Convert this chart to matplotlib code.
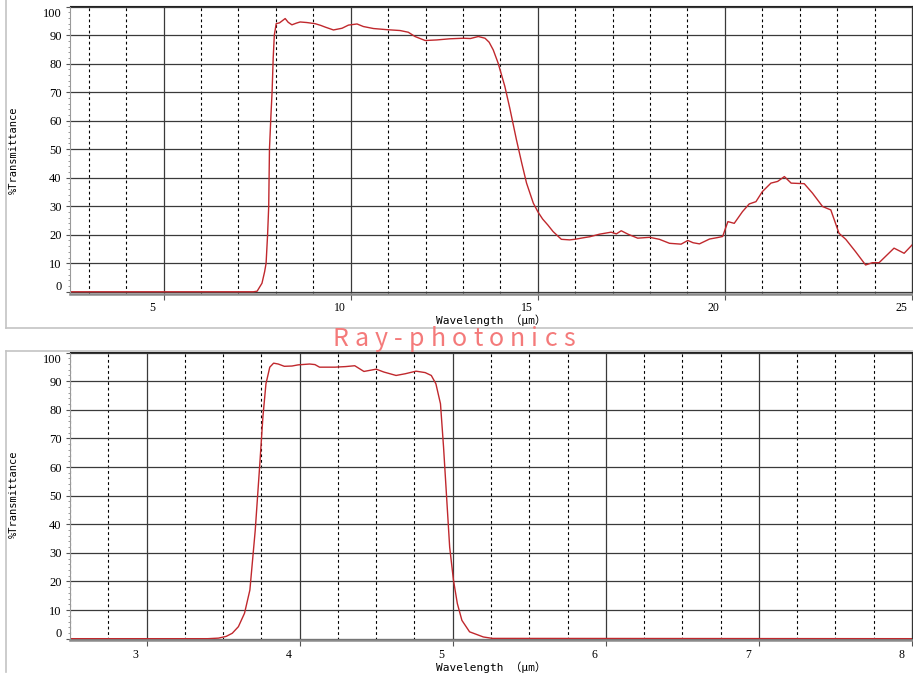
import matplotlib
matplotlib.use("Agg")
import matplotlib.pyplot as plt
import matplotlib.transforms as mtransforms
from matplotlib.lines import Line2D
from matplotlib.ticker import MultipleLocator

# LWIR filter (top panel)
wl_top = [2.5, 7.4, 7.5, 7.63, 7.7, 7.74, 7.78, 7.81, 7.83, 7.87, 7.9, 7.93, 7.96, 8.01,
          8.1, 8.25, 8.33, 8.43, 8.55, 8.65, 8.83, 9.05, 9.2, 9.32, 9.54, 9.77, 9.94,
          10.17, 10.34, 10.61, 10.97, 11.32, 11.54, 11.72, 11.99, 12.3, 12.65, 13.01,
          13.2, 13.41, 13.59, 13.7, 13.81, 13.94, 14.12, 14.25, 14.43, 14.57, 14.7,
          14.88, 15.0, 15.13, 15.27, 15.41, 15.63, 15.85, 15.99, 16.2, 16.39, 16.65,
          16.96, 17.1, 17.23, 17.41, 17.67, 17.99, 18.25, 18.52, 18.83, 19.01, 19.15,
          19.32, 19.59, 19.8, 19.94, 20.08, 20.25, 20.47, 20.65, 20.83, 21.0, 21.23,
          21.41, 21.59, 21.77, 22.12, 22.34, 22.61, 22.83, 23.05, 23.23, 23.49, 23.76,
          23.94, 24.12, 24.52, 24.79, 25.0]
t_top = [0, 0, 0.2, 3, 7, 10, 20, 30, 50, 62, 70, 82, 90, 94,
         94.3, 95.8, 94.5, 93.6, 94.2, 94.6, 94.4, 94.0, 93.4, 92.8, 91.8, 92.4, 93.5,
         93.9, 93.0, 92.3, 91.9, 91.6, 91.0, 89.5, 88.1, 88.3, 88.7, 88.9,
         88.8, 89.5, 88.9, 87.5, 84.8, 80.2, 72, 64.5, 53.3, 45.2, 38.1,
         31.1, 28.1, 25.5, 23.4, 21.1, 18.4, 18.2, 18.4, 18.9, 19.3, 20.2,
         20.9, 20.3, 21.4, 20.2, 18.8, 19.1, 18.4, 17.0, 16.7, 18.0, 17.2,
         16.8, 18.5, 19.0, 19.4, 24.6, 24.0, 28.1, 30.8, 31.6, 35.1, 38.1,
         38.7, 40.4, 38.1, 37.9, 34.6, 29.9, 28.7, 20.5, 18.4, 14.1, 9.4,
         10.2, 10.2, 15.3, 13.5, 16.4]

# MWIR filter (bottom panel)
wl_bot = [2.5, 3.4, 3.47, 3.52, 3.56, 3.6, 3.64, 3.675, 3.71, 3.74, 3.76, 3.78, 3.805,
          3.83, 3.86, 3.9, 3.95, 3.99, 4.065, 4.1, 4.13, 4.23, 4.3, 4.36, 4.42, 4.5,
          4.55, 4.63, 4.69, 4.76, 4.82, 4.86, 4.89, 4.92, 4.94, 4.96, 4.98, 5.005,
          5.03, 5.06, 5.11, 5.2, 5.26, 8.0]
t_bot = [0, 0, 0.2, 0.8, 1.9, 4.2, 8.9, 17, 37.9, 61.2, 77.5, 89.1, 94.9,
         96.3, 96.0, 95.2, 95.3, 95.7, 96.0, 95.8, 94.9, 94.9, 95.1, 95.4, 93.4, 94.2,
         93.2, 92.0, 92.6, 93.5, 93.0, 92.0, 89.1, 82.1, 67, 49.5, 32, 20.4,
         12.3, 6.4, 2.4, 0.6, 0.1, 0]

W, H = 913, 682
fig = plt.figure(figsize=(W / 100, H / 100), dpi=100)
fig.patch.set_facecolor("white")

LINE_RED = "#c0282d"
GRID_DARK = "#3a3a3a"
FRAME = "#c4c4c4"


def px_rect(left, top, right, bottom):
    return [left / W, 1 - bottom / H, (right - left) / W, (bottom - top) / H]


def style_axes(ax, xlim, major, minor):
    ax.set_xlim(*xlim)
    ax.set_ylim(-0.6, 100.2)
    ax.xaxis.set_major_locator(MultipleLocator(major))
    ax.xaxis.set_minor_locator(MultipleLocator(minor))
    ax.yaxis.set_major_locator(MultipleLocator(10))
    ax.yaxis.set_minor_locator(MultipleLocator(2))
    ax.grid(True, which="major", axis="both", color=GRID_DARK, lw=0.9)
    ax.grid(True, which="minor", axis="x", color="black", lw=0.8, linestyle=(0, (2.5, 2.5)))
    ax.tick_params(axis="x", which="major", length=4, direction="out", color="#555555",
                   labelsize=8.5, pad=2)
    ax.tick_params(axis="x", which="minor", length=0)
    ax.tick_params(axis="y", which="major", length=3, direction="out", color="#555555",
                   labelsize=9, pad=3)
    ax.tick_params(axis="y", which="minor", length=1.5, direction="out", color="#888888")
    for lab in ax.get_xticklabels() + ax.get_yticklabels():
        lab.set_family("Liberation Serif")
    ax.spines["bottom"].set_color("#8a8a8a")
    ax.spines["bottom"].set_linewidth(1.8)
    ax.spines["left"].set_color("#9a9a9a")
    ax.spines["left"].set_linestyle((0, (1, 1)))
    ax.spines["top"].set_color("#222222")
    ax.spines["right"].set_color("#333333")
    ax.set_axisbelow(True)

    # the instrument software draws the x numbers left of their grid lines
    shift = mtransforms.ScaledTranslation(-11 / 100, 0, fig.dpi_scale_trans)
    for lab in ax.get_xticklabels():
        lab.set_transform(lab.get_transform() + shift)
    up = mtransforms.ScaledTranslation(0, 6 / 100, fig.dpi_scale_trans)
    down = mtransforms.ScaledTranslation(0, -6 / 100, fig.dpi_scale_trans)
    for lab, val in zip(ax.get_yticklabels(), ax.get_yticks()):
        if abs(val) < 1e-6:
            lab.set_transform(lab.get_transform() + up)
        elif abs(val - 100) < 1e-6:
            lab.set_transform(lab.get_transform() + down)


# top panel
ax1 = fig.add_axes(px_rect(70, 6, 912, 293.5))
ax1.plot(wl_top, t_top, color=LINE_RED, lw=1.0)
style_axes(ax1, (2.5, 25), 5, 1)

# bottom panel
ax2 = fig.add_axes(px_rect(70, 352, 912, 640.4))
ax2.plot(wl_bot, t_bot, color=LINE_RED, lw=1.0)
style_axes(ax2, (2.5, 8.0), 1, 0.25)

# axis titles
for yc in (150, 494):
    fig.text(14 / W, 1 - yc / H, "%Transmittance", rotation=90, ha="center", va="center",
             family="DejaVu Sans Mono", fontsize=7.5)
xlab_family = ["DejaVu Sans Mono", "Noto Sans CJK SC"]
fig.text(491 / W, 1 - 320 / H, "Wavelength （μm）", ha="center", va="center",
         family=xlab_family, fontsize=8)
fig.text(491 / W, 1 - 667 / H, "Wavelength （μm）", ha="center", va="center",
         family=xlab_family, fontsize=8)

# panel frames
fig.add_artist(Line2D([6 / W, 6 / W], [1, 1 - 328 / H], transform=fig.transFigure,
                      color=FRAME, lw=1.2))
fig.add_artist(Line2D([6 / W, 1], [1 - 328 / H, 1 - 328 / H], transform=fig.transFigure,
                      color=FRAME, lw=1.2))
fig.add_artist(Line2D([6 / W, 6 / W], [1 - 350.5 / H, 1 - 672 / H], transform=fig.transFigure,
                      color=FRAME, lw=1.2))
fig.add_artist(Line2D([6 / W, 1], [1 - 350.5 / H, 1 - 350.5 / H], transform=fig.transFigure,
                      color=FRAME, lw=1.2))

# watermark: letter spaced, from x=332 to x=575 px
mark = "Ray-photonics"
wm_kw = dict(family=["Noto Sans CJK SC", "DejaVu Sans"], fontsize=18, fontweight="medium",
             color="#f47a7a", ha="left", va="baseline")
renderer = fig.canvas.get_renderer()
chars = [fig.text(0, 1 - 346.5 / H, ch, **wm_kw) for ch in mark]
widths = [t.get_window_extent(renderer).width for t in chars]
gap = (575 - 332 - sum(widths)) / (len(mark) - 1)
xpos = 332
for t, w in zip(chars, widths):
    t.set_x(xpos / W)
    xpos += w + gap

fig.savefig("out.png", dpi=100)
